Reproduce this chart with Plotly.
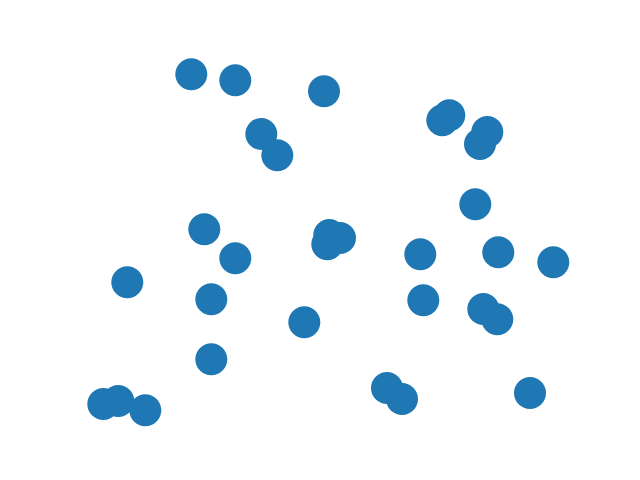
import plotly.graph_objects as go

x_vals = [191.3, 235.3, 324.0, 261.3, 277.3, 442.3, 449.3, 487.3, 480.0, 475.3,
          204.3, 235.3, 329.3, 340.0, 327.3, 420.3, 498.3, 553.3, 127.3, 211.3,
          423.3, 483.3, 497.3, 304.3, 211.3, 387.0, 402.0, 530.0, 103.3, 118.3, 145.3]
y_vals = [74.3, 80.3, 91.3, 134.0, 155.3, 120.3, 115.3, 132.0, 144.0, 204.3,
          229.3, 258.3, 235.0, 238.0, 244.3, 254.3, 252.3, 262.3, 282.3, 299.3,
          300.3, 309.0, 319.3, 322.3, 359.3, 388.0, 399.0, 393.0, 404.0, 401.0, 410.3]

fig = go.Figure(
    go.Scatter(
        x=x_vals,
        y=y_vals,
        mode="markers",
        marker=dict(size=32, color="#1f77b4", line=dict(width=0), opacity=1),
        hoverinfo="skip",
    )
)

fig.update_layout(
    width=640,
    height=480,
    margin=dict(l=0, r=0, t=0, b=0),
    paper_bgcolor="white",
    plot_bgcolor="white",
    showlegend=False,
    xaxis=dict(range=[0, 640], visible=False, fixedrange=True),
    yaxis=dict(range=[480, 0], visible=False, fixedrange=True),
)

fig.write_html("out.html", config={"displayModeBar": False})
